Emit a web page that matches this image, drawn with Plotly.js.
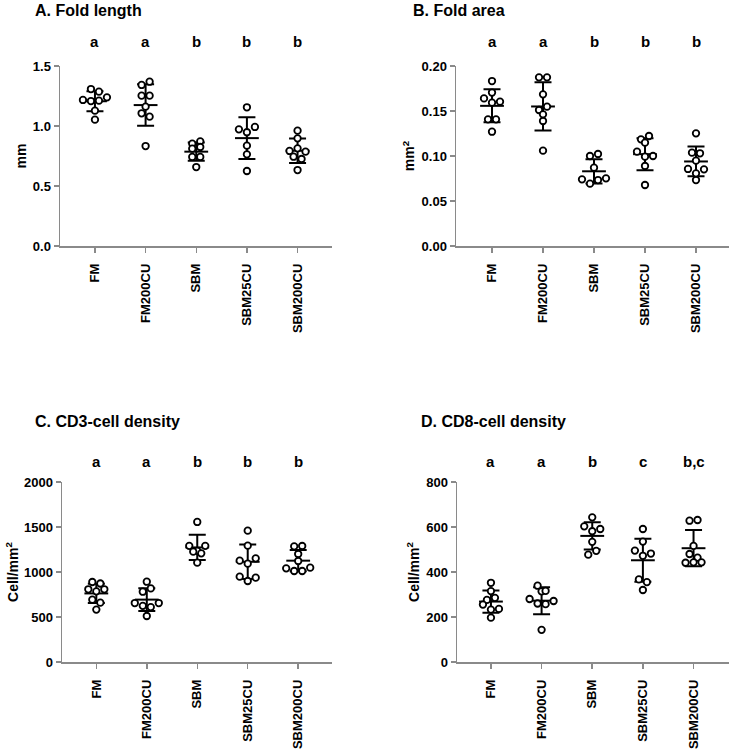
<!DOCTYPE html>
<html><head><meta charset="utf-8">
<script src="https://cdn.plot.ly/plotly-3.0.1.min.js"></script>
<style>html,body{margin:0;padding:0;background:#fff}#chart{width:729px;height:751px}</style>
</head><body><div id="chart"></div>
<script>
const categories = ['FM', 'FM200CU', 'SBM', 'SBM25CU', 'SBM200CU'];

// A. Fold length (mm) — individual fish values per diet
const lengthFM       = [1.308, 1.286, 1.217, 1.208, 1.211, 1.239, 1.128, 1.053];
const lengthFM200CU  = [1.342, 1.369, 1.253, 1.253, 1.161, 1.106, 1.078, 0.833];
const lengthSBM      = [0.853, 0.872, 0.811, 0.825, 0.742, 0.742, 0.658];
const lengthSBM25CU  = [1.156, 0.972, 0.948, 0.992, 0.836, 0.764, 0.625];
const lengthSBM200CU = [0.961, 0.897, 0.792, 0.814, 0.786, 0.744, 0.725, 0.633];
const lettersA = ['a', 'a', 'b', 'b', 'b'];

// B. Fold area (mm²)
const areaFM       = [0.1833, 0.1705, 0.164, 0.1593, 0.1604, 0.1407, 0.1407, 0.127];
const areaFM200CU  = [0.1874, 0.1874, 0.1685, 0.1511, 0.1548, 0.1463, 0.1389, 0.1059];
const areaSBM      = [0.1, 0.1022, 0.087, 0.0741, 0.0693, 0.0733, 0.0752];
const areaSBM25CU  = [0.1185, 0.1222, 0.1148, 0.1048, 0.0993, 0.1, 0.0889, 0.0678];
const areaSBM200CU = [0.1252, 0.1037, 0.103, 0.0948, 0.0856, 0.0807, 0.0852, 0.0733];
const lettersB = ['a', 'a', 'b', 'b', 'b'];

// C. CD3-cell density (cells/mm²)
const cd3FM       = [889, 872, 808, 785, 808, 693, 659, 582];
const cd3FM200CU  = [892, 781, 818, 655, 624, 610, 655, 511];
const cd3SBM      = [1556, 1291, 1235, 1291, 1226, 1207, 1104];
const cd3SBM25CU  = [1459, 1293, 1126, 1093, 1152, 948, 900, 937];
const cd3SBM200CU = [1285, 1289, 1200, 1122, 1041, 1011, 1011, 1048];
const lettersC = ['a', 'a', 'b', 'b', 'b'];

// D. CD8-cell density (cells/mm²)
const cd8FM       = [352, 315, 276, 285, 255, 233, 236, 197];
const cd8FM200CU  = [339, 314, 316, 280, 260, 257, 271, 143];
const cd8SBM      = [643, 603, 581, 591, 534, 477, 494];
const cd8SBM25CU  = [591, 535, 495, 472, 482, 367, 355, 320];
const cd8SBM200CU = [628, 631, 516, 480, 464, 441, 443, 443];
const lettersD = ['a', 'a', 'b', 'c', 'b,c'];

// ---------- layout / style ----------
const W = 729, H = 751;
const FONT = 'Liberation Sans, Arial, Helvetica, sans-serif';
const AX = '#8a8a8a';
const DOT_PX = 8, ROW_PX = 5.5, MAX_HALF = 13;

const panels = [
  {groups: [lengthFM, lengthFM200CU, lengthSBM, lengthSBM25CU, lengthSBM200CU], letters: lettersA,
   title: 'A. Fold length', ytitle: 'mm', yrange: [0, 1.5], yticks: [0, 0.5, 1, 1.5], fmt: '.1f',
   xpx: [60, 332], ypx: [66, 246], xrange: [-0.69, 4.68], titleX: 33, titleY: 10, letterY: 42, standoff: 3},
  {groups: [areaFM, areaFM200CU, areaSBM, areaSBM25CU, areaSBM200CU], letters: lettersB,
   title: 'B. Fold area', ytitle: 'mm<sup>2</sup>', yrange: [0, 0.2], yticks: [0, 0.05, 0.1, 0.15, 0.2], fmt: '.2f',
   xpx: [456, 729], ypx: [66, 246], xrange: [-0.706, 4.647], titleX: 411, titleY: 10, letterY: 42, standoff: 3},
  {groups: [cd3FM, cd3FM200CU, cd3SBM, cd3SBM25CU, cd3SBM200CU], letters: lettersC,
   title: 'C. CD3-cell density', ytitle: 'Cell/mm<sup>2</sup>', yrange: [0, 2000], yticks: [0, 500, 1000, 1500, 2000], fmt: 'd',
   xpx: [62, 332], ypx: [482, 662], xrange: [-0.68, 4.67], titleX: 33, titleY: 422, letterY: 461, standoff: 2},
  {groups: [cd8FM, cd8FM200CU, cd8SBM, cd8SBM25CU, cd8SBM200CU], letters: lettersD,
   title: 'D. CD8-cell density', ytitle: 'Cell/mm<sup>2</sup>', yrange: [0, 800], yticks: [0, 200, 400, 600, 800], fmt: 'd',
   xpx: [457, 729], ypx: [482, 662], xrange: [-0.67, 4.7], titleX: 419, titleY: 422, letterY: 461, standoff: 3}
];

function mean(a) { return a.reduce((s, v) => s + v, 0) / a.length; }
function sd(a) { const m = mean(a); return Math.sqrt(a.reduce((s, v) => s + (v - m) * (v - m), 0) / (a.length - 1)); }

// Prism-like scatter arrangement: points close in value share a row, spread horizontally
function swarm(vals, pxPerY, pxPerX) {
  const idx = vals.map((v, i) => i).sort((a, b) => vals[b] - vals[a]);
  const rows = []; let cur = null;
  idx.forEach(i => {
    if (cur && (vals[cur[0]] - vals[i]) * pxPerY <= ROW_PX) cur.push(i);
    else { cur = [i]; rows.push(cur); }
  });
  const off = new Array(vals.length).fill(0);
  rows.forEach(r => {
    r.sort((a, b) => a - b);
    const n = r.length;
    const sp = n > 1 ? Math.min(DOT_PX, 2 * MAX_HALF / (n - 1)) : 0;
    r.forEach((i, k) => { off[i] = (k - (n - 1) / 2) * sp / pxPerX; });
  });
  return off;
}

const traces = [];
const layout = {
  width: W, height: H, margin: {l: 0, r: 0, t: 0, b: 0},
  paper_bgcolor: '#fff', plot_bgcolor: 'rgba(0,0,0,0)', showlegend: false,
  font: {family: FONT, color: '#000'}, annotations: []
};

panels.forEach((p, k) => {
  const s = k === 0 ? '' : String(k + 1);
  const pxPerX = (p.xpx[1] - p.xpx[0]) / (p.xrange[1] - p.xrange[0]);
  const pxPerY = (p.ypx[1] - p.ypx[0]) / (p.yrange[1] - p.yrange[0]);

  const idxs = categories.map((c, i) => i);
  traces.push({
    type: 'scatter', mode: 'markers', xaxis: 'x' + s, yaxis: 'y' + s,
    x: idxs, y: p.groups.map(mean),
    marker: {symbol: 'line-ew', size: 17, color: '#000', line: {width: 2, color: '#000'}},
    error_y: {type: 'data', array: p.groups.map(sd), visible: true, width: 8.5, thickness: 2, color: '#000'},
    hoverinfo: 'skip'
  });
  const px = [], py = [];
  p.groups.forEach((g, i) => {
    const off = swarm(g, pxPerY, pxPerX);
    g.forEach((v, j) => { px.push(i + off[j]); py.push(v); });
  });
  traces.push({
    type: 'scatter', mode: 'markers', xaxis: 'x' + s, yaxis: 'y' + s,
    x: px, y: py, cliponaxis: false,
    marker: {symbol: 'circle', size: 6.5, color: '#fff', line: {width: 1.8, color: '#000'}},
    hoverinfo: 'skip'
  });

  layout['xaxis' + s] = {
    domain: [p.xpx[0] / W, p.xpx[1] / W], range: p.xrange, anchor: 'y' + s,
    tickmode: 'array', tickvals: idxs, ticktext: categories, tickangle: -90,
    ticks: 'outside', ticklen: 5, tickwidth: 1.5, tickcolor: AX, ticklabelstandoff: 6,
    showline: true, linecolor: AX, linewidth: 1.5, showgrid: false, zeroline: false,
    tickfont: {family: FONT, size: 13, color: '#000', weight: 'bold'}, fixedrange: true
  };
  layout['yaxis' + s] = {
    domain: [1 - p.ypx[1] / H, 1 - p.ypx[0] / H], range: p.yrange, anchor: 'x' + s,
    tickmode: 'array', tickvals: p.yticks, tickformat: p.fmt,
    ticks: 'outside', ticklen: 5, tickwidth: 1.5, tickcolor: AX,
    showline: true, linecolor: AX, linewidth: 1.5, showgrid: false, zeroline: false,
    tickfont: {family: FONT, size: 13, color: '#000', weight: 'bold'}, fixedrange: true,
    title: {text: p.ytitle, standoff: p.standoff, font: {family: FONT, size: 14, color: '#000', weight: 'bold'}}
  };

  layout.annotations.push({
    xref: 'paper', yref: 'paper', x: p.titleX / W, y: 1 - p.titleY / H,
    xanchor: 'left', yanchor: 'middle', showarrow: false, text: p.title,
    font: {family: FONT, size: 16, color: '#000', weight: 'bold'}
  });
  p.letters.forEach((t, i) => {
    layout.annotations.push({
      xref: 'x' + s, yref: 'paper', x: i, y: 1 - p.letterY / H,
      xanchor: 'center', yanchor: 'middle', showarrow: false, text: t,
      font: {family: FONT, size: 15, color: '#000', weight: 'bold'}
    });
  });
});

Plotly.newPlot('chart', traces, layout, {displayModeBar: false, staticPlot: true});
</script>
</body></html>
